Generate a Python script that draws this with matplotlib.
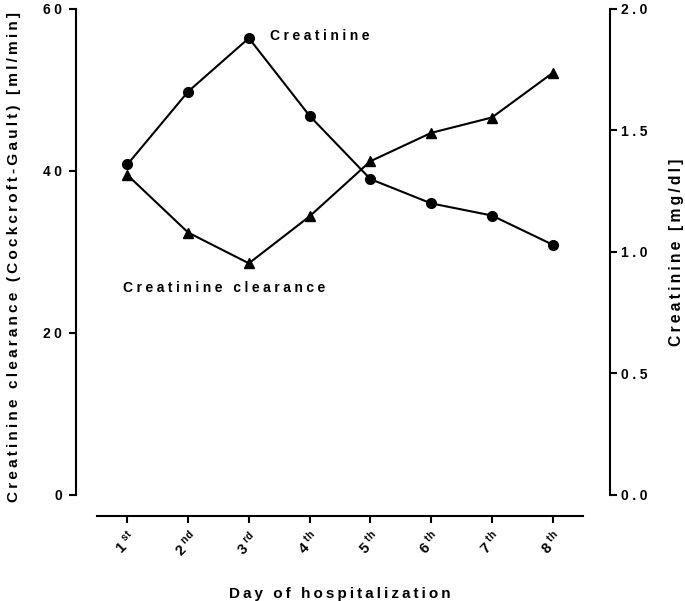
#!/usr/bin/env python3
"""Creatinine and creatinine clearance over the days of hospitalization."""

import matplotlib
matplotlib.use("Agg")
import matplotlib.pyplot as plt
from matplotlib.ticker import FuncFormatter

plt.rcParams["font.family"] = ["Liberation Sans", "DejaVu Sans"]
plt.rcParams["font.weight"] = "bold"
plt.rcParams["mathtext.fontset"] = "custom"
plt.rcParams["mathtext.rm"] = "Liberation Sans"
plt.rcParams["mathtext.bf"] = "Liberation Sans:bold"

# ── Data ─────────────────────────────────────────────────────────────────
days = [1, 2, 3, 4, 5, 6, 7, 8]
day_suffix = ["st", "nd", "rd", "th", "th", "th", "th", "th"]
clearance = [39.5, 32.4, 28.6, 34.4, 41.2, 44.7, 46.6, 52.1]      # ml/min
creatinine = [1.36, 1.66, 1.88, 1.56, 1.30, 1.20, 1.15, 1.03]    # mg/dl
left_ticks = [0, 20, 40, 60]
right_ticks = [0.0, 0.5, 1.0, 1.5, 2.0]

WIDE = "\u2005"   # four-per-em space
THIN = "\u2009"   # thin space


def spaced(s, sp=THIN):
    return sp.join(s)


fig = plt.figure(figsize=(6.85, 6.01), dpi=100)
ax = fig.add_axes([0.1416, 0.1764, 0.7095, 0.8087])
ax2 = ax.twinx()

LW = 1.5
ax.plot(days, clearance, "-", marker="^", color="black", lw=LW, ms=7.5, clip_on=False)
ax2.plot(days, creatinine, "-", marker="o", color="black", lw=LW, ms=7, clip_on=False)

ax.set_xlim(0.5, 8.5)
ax.set_ylim(0, 60)
ax2.set_ylim(0, 2.0)

# ── Spines (Prism-like offset axes) ──────────────────────────────────────
for a in (ax, ax2):
    a.spines["top"].set_visible(False)
    for s in a.spines.values():
        s.set_linewidth(1.5)
ax.spines["right"].set_visible(False)
ax2.spines["left"].set_visible(False)
ax2.spines["bottom"].set_visible(False)
ax.spines["left"].set_position(("outward", 15))
ax.spines["bottom"].set_position(("outward", 15))
ax2.spines["right"].set_position(("outward", 19.5))

ax.set_yticks(left_ticks)
ax.yaxis.set_major_formatter(FuncFormatter(lambda v, p: spaced(f"{v:.0f}", WIDE)))
ax2.set_yticks(right_ticks)
ax2.yaxis.set_major_formatter(FuncFormatter(lambda v, p: spaced(f"{v:.1f}", WIDE)))

ax.set_xticks(days)
ax.set_xticklabels([f"{d}{WIDE}$^{{\\rm {s}}}$" for d, s in zip(days, day_suffix)],
                   rotation=45, ha="right", rotation_mode="anchor")

for a in (ax, ax2):
    a.tick_params(width=1.5, length=5, labelsize=10, pad=3)
ax.tick_params(axis="y", pad=5)
ax.tick_params(axis="x", labelsize=10.5, pad=4)

ax.set_xlabel(spaced("Day of hospitalization"), fontsize=11, fontweight="bold", labelpad=20)
ax.set_ylabel(spaced("Creatinine clearance (Cockcroft-Gault) [ml/min]"),
              fontsize=11.1, fontweight="bold")
ax.yaxis.set_label_coords(-0.157, 0.49)
ax2.set_ylabel(spaced("Creatinine [mg/dl]"), fontsize=11.3, fontweight="bold", labelpad=15)

# ── Annotations ──────────────────────────────────────────────────────────
ax.text(3.34, 56.7, spaced("Creatinine", WIDE), fontsize=10, fontweight="bold",
        ha="left", va="center")
ax.text(0.92, 25.6, spaced("Creatinine clearance", WIDE),
        fontsize=10, fontweight="bold", ha="left", va="center")

fig.savefig("out.png", dpi=100)
